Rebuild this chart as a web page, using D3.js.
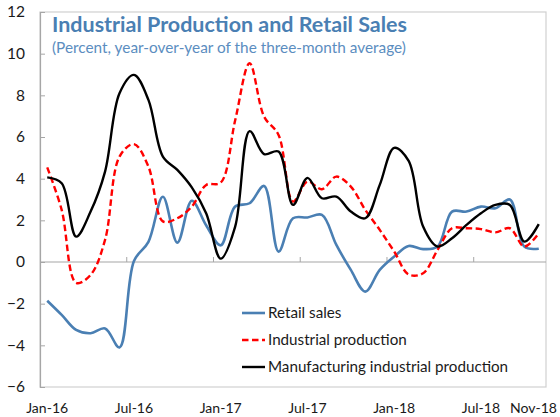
<!DOCTYPE html>
<html><head><meta charset="utf-8">
<script src="https://cdn.jsdelivr.net/npm/d3@7"></script>
<style>body{margin:0;background:#fff}svg{display:block}</style>
</head><body>
<svg id="chart" width="560" height="417"></svg>
<script>
const months = ["Jan-16","Feb-16","Mar-16","Apr-16","May-16","Jun-16","Jul-16","Aug-16","Sep-16","Oct-16","Nov-16","Dec-16",
  "Jan-17","Feb-17","Mar-17","Apr-17","May-17","Jun-17","Jul-17","Aug-17","Sep-17","Oct-17","Nov-17","Dec-17",
  "Jan-18","Feb-18","Mar-18","Apr-18","May-18","Jun-18","Jul-18","Aug-18","Sep-18","Oct-18","Nov-18"];
const retailSales = [-1.86,-2.54,-3.26,-3.42,-3.19,-4.1,0.05,0.97,3.13,0.93,2.94,1.75,
  0.8,2.66,2.82,3.65,0.5,2.1,2.14,2.26,0.82,-0.38,-1.42,-0.38,
  0.26,0.77,0.62,0.74,2.42,2.42,2.66,2.58,3.0,0.74,0.64];
const industrialProduction = [4.54,2.5,-1.0,-0.62,1.06,5.06,5.66,4.58,1.95,2.1,2.66,3.7,
  3.81,6.8,9.54,6.98,6.1,2.9,3.86,3.49,4.1,3.62,2.5,1.54,
  0.5,-0.6,-0.54,0.58,1.62,1.62,1.58,1.42,1.62,0.74,1.38];
const manufacturingProduction = [4.06,3.78,1.22,2.42,4.34,8.1,8.98,7.78,5.06,4.42,3.58,2.33,
  0.16,1.7,6.28,5.18,5.3,2.74,4.04,3.06,3.14,2.42,2.1,3.7,
  5.48,4.85,1.7,0.74,1.14,1.78,2.34,2.74,2.74,0.98,1.82];
const yTicks = [-6,-4,-2,0,2,4,6,8,10,12];
const xLabels = ["Jan-16","Jul-16","Jan-17","Jul-17","Jan-18","Jul-18","Nov-18"];
const xTickMonths = ["Jul-16","Jan-17","Jul-17","Jan-18","Jul-18"];
const seriesNames = ["Retail sales","Industrial production","Manufacturing industrial production"];
const titleText = "Industrial Production and Retail Sales";
const subtitleText = "(Percent, year-over-year of the three-month average)";

const W = 560, H = 417;
const m = {left:40, right:546, top:12, bottom:387};
const font = "Lato, 'Open Sans', sans-serif";
const svg = d3.select("#chart");

const x = d3.scaleBand().domain(months).range([m.left, m.right]).paddingInner(0).paddingOuter(0);
const cx = d => x(d) + x.bandwidth()/2;
const y = d3.scaleLinear().domain([-6,12]).range([m.bottom, m.top]);

function fit(sel, target){
  let fs = parseFloat(sel.attr("font-size"));
  for(let k=0;k<4;k++){
    const w = sel.node().getComputedTextLength();
    fs = fs * target / w;
    sel.attr("font-size", fs);
  }
  return fs;
}

// plot border
svg.append("rect").attr("x", m.left).attr("y", m.top)
  .attr("width", m.right - m.left).attr("height", m.bottom - m.top)
  .attr("fill","none").attr("stroke","#d0d0d0").attr("stroke-width",1.2);

// y axis
const yAxis = d3.axisLeft(y).tickValues(yTicks).tickSize(-5).tickPadding(0);
const gy = svg.append("g").attr("transform",`translate(${m.left},0)`).call(yAxis);
gy.select(".domain").attr("stroke","#a6a6a6").attr("stroke-width",1.2);
gy.selectAll(".tick line").attr("stroke","#a6a6a6").attr("stroke-width",1);
gy.selectAll(".tick text").attr("x",-15).attr("fill","#1a1a1a")
  .style("font-family",font).style("font-size","15.5px");

// x axis at zero
const gx = svg.append("g").attr("transform",`translate(0,${y(0)})`);
gx.append("line").attr("x1",m.left).attr("x2",m.right).attr("stroke","#a6a6a6").attr("stroke-width",1.2);
gx.selectAll("line.tk").data(xTickMonths).join("line").attr("class","tk")
  .attr("x1",d=>x(d)).attr("x2",d=>x(d)).attr("y1",0).attr("y2",-5)
  .attr("stroke","#a6a6a6").attr("stroke-width",1);

// x labels at bottom
const xl = svg.append("g").selectAll("text").data(xLabels).join("text")
  .attr("y", 413).attr("text-anchor","middle").attr("fill","#1a1a1a")
  .attr("font-family",font).attr("font-size",15).text(d=>d);
const fsx = fit(d3.select(xl.nodes()[0]), 42);
xl.attr("font-size", fsx);
xl.attr("x", function(d){
  const w = this.getComputedTextLength();
  return Math.min(cx(d), W - 3 - w/2);
});

// lines
const curve = d3.curveCatmullRom.alpha(0.5);
const line = d3.line().x((d,i)=>cx(months[i])).y(d=>y(d)).curve(curve);
const series = [
  {name:seriesNames[0], values:retailSales, color:"#4a7fb3", dash:null, width:2.6},
  {name:seriesNames[1], values:industrialProduction, color:"#ff0000", dash:"6.5,3.5", width:2.4},
  {name:seriesNames[2], values:manufacturingProduction, color:"#000000", dash:null, width:2.4}
];
svg.append("g").selectAll("path").data(series).join("path")
  .attr("d", d=>line(d.values)).attr("fill","none")
  .attr("stroke",d=>d.color).attr("stroke-width",d=>d.width)
  .attr("stroke-dasharray",d=>d.dash).attr("stroke-linejoin","round");

// legend
const lg = svg.append("g");
const rows = [313,340,367];
series.forEach((s,i)=>{
  lg.append("line").attr("x1",242).attr("x2",265).attr("y1",rows[i]).attr("y2",rows[i])
    .attr("stroke",s.color).attr("stroke-width",s.width).attr("stroke-dasharray",s.dash);
});
const lt = lg.selectAll("text").data(series).join("text")
  .attr("x",268).attr("y",(d,i)=>rows[i]).attr("dy","0.35em")
  .attr("fill","#1a1a1a").attr("font-family",font).attr("font-size",15).text(d=>d.name);
const fsl = fit(d3.select(lt.nodes()[2]), 240);
lt.attr("font-size", fsl);

// title
const t = svg.append("text").attr("x",52).attr("y",32).attr("fill","#4a7fb3")
  .attr("font-family",font).attr("font-weight","bold").attr("font-size",19).text(titleText);
fit(t, 355);
const st = svg.append("text").attr("x",52).attr("y",53).attr("fill","#5b8dc0")
  .attr("font-family",font).attr("font-size",14).text(subtitleText);
fit(st, 354);
</script>
</body></html>
